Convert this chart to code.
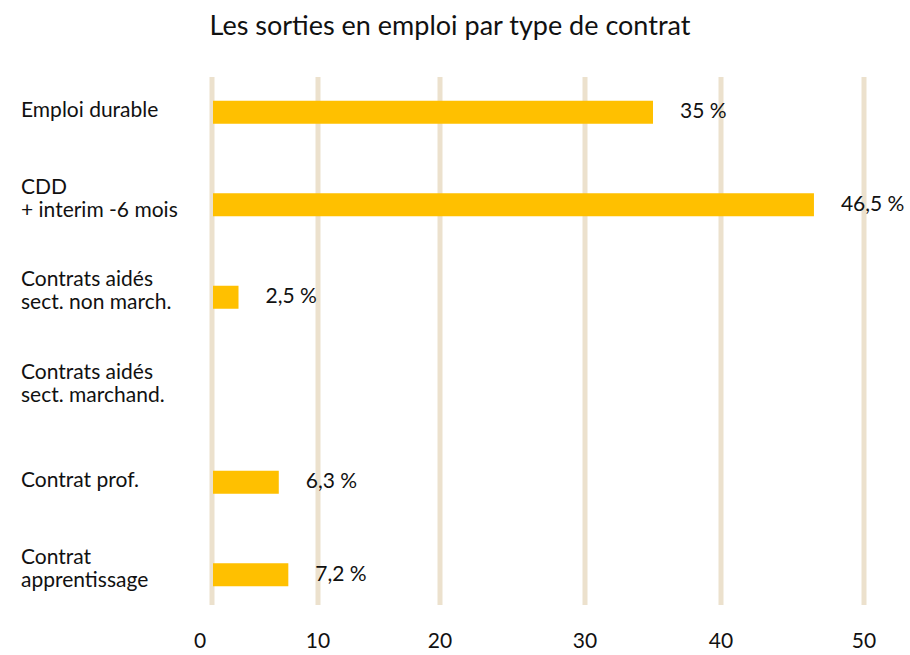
<!DOCTYPE html>
<html>
<head>
<meta charset="utf-8">
<script src="https://cdn.jsdelivr.net/npm/d3@7"></script>
<style>
  body { margin: 0; background: #fff; }
  text { font-family: Lato, "Open Sans", sans-serif; fill: #111; }
</style>
</head>
<body>
<div id="chart"></div>
<script>
const title = 'Les sorties en emploi par type de contrat';

const categories = [
  ['Emploi durable'],
  ['CDD', '+ interim -6 mois'],
  ['Contrats aidés', 'sect. non march.'],
  ['Contrats aidés', 'sect. marchand.'],
  ['Contrat prof.'],
  ['Contrat', 'apprentissage'],
];

const values = [35, 46.5, 2.5, null, 6.3, 7.2];

const valueLabels = ['35 %', '46,5 %', '2,5 %', '', '6,3 %', '7,2 %'];

const ticks = [0, 10, 20, 30, 40, 50];

const width = 910;
const height = 655;

const svg = d3
  .select('#chart')
  .append('svg')
  .attr('width', width)
  .attr('height', height);

// the original axis is not evenly spaced, so a piecewise scale follows it
const x = d3
  .scaleLinear()
  .domain(ticks)
  .range([212, 318, 440, 585, 721, 864]);

const y = d3
  .scaleBand()
  .domain(d3.range(categories.length))
  .range([66, 621]);

const barHeight = 23;

svg
  .append('text')
  .attr('x', 450)
  .attr('y', 35)
  .attr('text-anchor', 'middle')
  .style('font-size', '27px')
  .text(title);

// gridlines
svg
  .append('g')
  .selectAll('line')
  .data(ticks)
  .join('line')
  .attr('x1', d => x(d))
  .attr('x2', d => x(d))
  .attr('y1', 77)
  .attr('y2', 605)
  .attr('stroke', '#ece1cd')
  .attr('stroke-width', 5);

// tick labels
svg
  .append('g')
  .selectAll('text')
  .data(ticks)
  .join('text')
  .attr('x', d => (d === 0 ? x(d) - 12 : x(d)))
  .attr('y', 648)
  .attr('text-anchor', 'middle')
  .style('font-size', '21px')
  .text(d => d);

const rows = categories.map((lines, i) => ({lines, value: values[i], label: valueLabels[i], i}));

// bars
svg
  .append('g')
  .selectAll('rect')
  .data(rows.filter(d => d.value != null))
  .join('rect')
  .attr('x', x(0) + 1)
  .attr('y', d => y(d.i) + y.bandwidth() / 2 - barHeight / 2)
  .attr('width', d => x(d.value) - x(0) - 1)
  .attr('height', barHeight)
  .attr('fill', '#ffc000');

// value labels
svg
  .append('g')
  .selectAll('text')
  .data(rows.filter(d => d.value != null))
  .join('text')
  .attr('x', d => x(d.value) + 27)
  .attr('y', d => y(d.i) + y.bandwidth() / 2 + 6)
  .style('font-size', '21px')
  .text(d => d.label);

// category labels
const cat = svg
  .append('g')
  .selectAll('text')
  .data(rows)
  .join('text')
  .attr('x', 21)
  .attr('y', d => y(d.i) + y.bandwidth() / 2 + (d.lines.length === 1 ? 5 : -11))
  .style('font-size', '21px');

cat
  .selectAll('tspan')
  .data(d => d.lines)
  .join('tspan')
  .attr('x', 21)
  .attr('dy', (d, i) => (i === 0 ? 0 : 23))
  .text(d => d);
</script>
</body>
</html>
